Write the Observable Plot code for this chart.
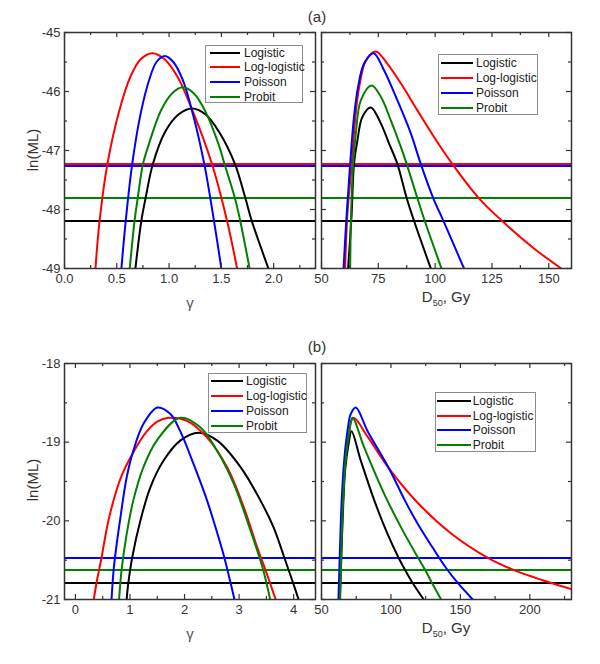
<!DOCTYPE html>
<html>
<head>
<meta charset="utf-8">
<script src="https://cdn.jsdelivr.net/npm/d3@7"></script>
<script src="https://cdn.jsdelivr.net/npm/@observablehq/plot@0.6"></script>
<style>
  body { margin: 0; background: #fff; }
  #chart { position: relative; width: 600px; height: 664px; overflow: hidden;
           font-family: Arial, "Liberation Sans", sans-serif; color: #333; background: #fff; }
  .holder { position: absolute; }
  .holder svg { overflow: visible; background: transparent; display: block; }
  .lbl { position: absolute; white-space: nowrap; line-height: 1; }
  .legend { position: absolute; border: 1.5px solid #8c8c8c; box-sizing: border-box; background: #fff; }
  .legend .sw { position: absolute; height: 2px; }
  .legend .tx { position: absolute; font-size: 12px; color: #222; line-height: 1; transform: translateY(-50%); white-space: nowrap; }
</style>
</head>
<body>
<div id="chart"></div>
<script>
// ---------- series names / colours ----------
const seriesNames = ["Logistic", "Log-logistic", "Poisson", "Probit"];
const seriesColors = ["#000000", "#ff0000", "#0000ff", "#008000"];

// ---------- panel (a), ln(ML) vs gamma ----------
const aGammaLogistic = [[0.678,-49.0],[0.735,-48.19],[0.775,-47.81],[0.845,-47.23],[0.96,-46.69],[1.09,-46.39],[1.22,-46.29],[1.35,-46.39],[1.48,-46.69],[1.63,-47.23],[1.73,-47.81],[1.79,-48.19],[1.95,-49.0]];
const aGammaLogLogistic = [[0.296,-49.0],[0.335,-48.2],[0.41,-47.23],[0.52,-46.35],[0.63,-45.75],[0.73,-45.45],[0.84,-45.35],[0.955,-45.45],[1.08,-45.75],[1.23,-46.35],[1.41,-47.23],[1.555,-48.2],[1.65,-49.0]];
const aGammaPoisson = [[0.544,-49.0],[0.585,-48.2],[0.645,-47.26],[0.725,-46.4],[0.81,-45.8],[0.88,-45.5],[0.96,-45.40],[1.04,-45.5],[1.13,-45.8],[1.23,-46.4],[1.34,-47.26],[1.43,-48.2],[1.50,-49.0]];
const aGammaProbit = [[0.624,-49.0],[0.67,-48.19],[0.70,-47.81],[0.75,-47.23],[0.80,-46.93],[0.92,-46.33],[1.03,-46.03],[1.13,-45.93],[1.235,-46.03],[1.345,-46.33],[1.48,-46.93],[1.53,-47.23],[1.63,-47.81],[1.68,-48.19],[1.77,-49.0]];

// ---------- panel (a), ln(ML) vs D50 ----------
const aDoseLogistic = [[61.7,-49.0],[63.2,-48.12],[64.3,-47.23],[65.8,-46.83],[68.0,-46.43],[71.7,-46.27],[76.1,-46.54],[79.7,-46.88],[83.4,-47.23],[87.5,-47.81],[90.7,-48.19],[98.1,-49.0]];
const aDoseLogLogistic = [[60.4,-49.0],[61.4,-48.07],[63.3,-47.23],[64.9,-46.43],[66.6,-45.92],[69.6,-45.47],[73.9,-45.32],[79.0,-45.53],[84.9,-45.86],[92.2,-46.32],[99.5,-46.77],[107.6,-47.23],[119.3,-47.81],[128.8,-48.17],[143.5,-48.66],[155.5,-49.0]];
const aDosePoisson = [[59.7,-49.0],[61.1,-48.07],[62.6,-47.23],[64.3,-46.43],[66.1,-45.92],[68.7,-45.53],[72.9,-45.35],[77.5,-45.64],[83.4,-46.15],[89.3,-46.71],[93.7,-47.23],[99.2,-47.81],[103.6,-48.19],[112.7,-49.0]];
const aDoseProbit = [[62.6,-49.0],[63.0,-48.12],[63.9,-47.23],[65.1,-46.71],[67.3,-46.15],[72.0,-45.90],[76.1,-46.09],[80.5,-46.49],[84.9,-46.94],[87.5,-47.23],[92.2,-47.81],[95.4,-48.19],[102.8,-49.0]];

// horizontal levels, panel (a): Logistic, Log-logistic, Poisson, Probit
const aLevels = [-48.19, -47.23, -47.26, -47.81];

// ---------- panel (b), ln(ML) vs gamma ----------
const bGammaLogistic = [[0.939,-21.0],[0.97,-20.79],[1.04,-20.47],[1.19,-20.0],[1.37,-19.58],[1.61,-19.24],[1.92,-18.98],[2.258,-18.88],[2.6,-18.98],[3.03,-19.32],[3.39,-19.74],[3.63,-20.08],[3.83,-20.47],[3.99,-20.79],[4.09,-21.0]];
const bGammaLogLogistic = [[0.337,-21.0],[0.386,-20.79],[0.435,-20.62],[0.478,-20.47],[0.62,-19.95],[0.85,-19.42],[1.06,-19.13],[1.30,-18.87],[1.50,-18.74],[1.706,-18.69],[2.044,-18.73],[2.41,-18.94],[2.78,-19.32],[3.087,-19.83],[3.333,-20.34],[3.486,-20.63],[3.67,-21.0]];
const bGammaPoisson = [[0.662,-21.0],[0.693,-20.68],[0.724,-20.47],[0.816,-20.0],[0.939,-19.45],[1.061,-19.11],[1.245,-18.77],[1.503,-18.56],[1.737,-18.64],[1.921,-18.86],[2.166,-19.28],[2.412,-19.74],[2.61,-20.18],[2.73,-20.47],[2.915,-21.0]];
const bGammaProbit = [[0.80,-21.0],[0.847,-20.62],[0.939,-20.17],[1.061,-19.74],[1.245,-19.32],[1.491,-18.98],[1.921,-18.69],[2.289,-18.81],[2.596,-19.11],[2.903,-19.53],[3.149,-20.0],[3.333,-20.38],[3.44,-20.62],[3.57,-21.0]];

// ---------- panel (b), ln(ML) vs D50 ----------
const bDoseLogistic = [[63.2,-21.0],[64.2,-20.51],[65.4,-19.91],[67.0,-19.36],[69.5,-19.02],[71.6,-18.86],[78.4,-19.24],[88.0,-19.74],[97.6,-20.17],[105.5,-20.47],[110.0,-20.62],[115.6,-20.79],[123.6,-21.0]];
const bDoseLogLogistic = [[63.0,-21.0],[63.9,-20.42],[65.1,-19.79],[67.0,-19.24],[69.5,-18.90],[73.1,-18.69],[83.2,-18.93],[98.8,-19.34],[119.2,-19.77],[143.3,-20.16],[169.8,-20.47],[187.8,-20.62],[215.4,-20.79],[230.4,-20.87]];
const bDosePoisson = [[62.2,-21.0],[63.2,-20.42],[64.4,-19.79],[66.3,-19.24],[68.7,-18.86],[71.1,-18.64],[74.7,-18.56],[83.2,-18.86],[98.8,-19.34],[110.0,-19.74],[120.0,-20.06],[130.0,-20.34],[139.7,-20.60],[148.1,-20.79],[158.9,-21.0]];
const bDoseProbit = [[63.4,-21.0],[64.2,-20.42],[65.4,-19.79],[67.3,-19.24],[69.7,-18.90],[72.3,-18.69],[80.8,-19.07],[95.2,-19.66],[107.2,-20.08],[119.5,-20.47],[124.5,-20.62],[129.6,-20.79],[136.1,-21.0]];

// horizontal levels, panel (b): Logistic, Log-logistic, Poisson, Probit
const bLevels = [-20.79, -20.62, -20.47, -20.62];

// ---------- axes ----------
const aGammaDomain = [0, 2.4];
const aGammaMajor = [0, 0.5, 1.0, 1.5, 2.0];
const aGammaMinor = [0.25, 0.75, 1.25, 1.75, 2.25];
const aDoseDomain = [50, 160];
const aDoseMajor = [50, 75, 100, 125, 150];
const aDoseMinor = [62.5, 87.5, 112.5, 137.5];
const aYDomain = [-49, -45];
const aYMajor = [-45, -46, -47, -48, -49];
const aYMinor = [-45.5, -46.5, -47.5, -48.5];

const bGammaDomain = [-0.2, 4.4];
const bGammaMajor = [0, 1, 2, 3, 4];
const bGammaMinor = [0.5, 1.5, 2.5, 3.5];
const bDoseDomain = [50, 230];
const bDoseMajor = [50, 100, 150, 200];
const bDoseMinor = [75, 125, 175, 225];
const bYDomain = [-21, -18];
const bYMajor = [-18, -19, -20, -21];
const bYMinor = [-18.5, -19.5, -20.5];

const chart = document.getElementById("chart");

function panel(o) {
  const fw = o.width - o.ml - o.mr, fh = o.height - o.mt - o.mb;
  const marks = [];
  // horizontal levels
  o.levels.forEach((v, i) => marks.push(Plot.ruleY([v], {stroke: seriesColors[i], strokeWidth: 2, shapeRendering: "crispEdges"})));
  // curves
  o.curves.forEach((c, i) => marks.push(Plot.line(c, {x: d => d[0], y: d => d[1], stroke: seriesColors[i],
    strokeWidth: 2, curve: "catmull-rom", clip: true})));
  // inward ticks on all four sides
  const tk = {stroke: "#333", strokeWidth: 1.2};
  marks.push(Plot.tickX(o.xMajor, {x: d => d, insetTop: fh - 5, ...tk}));
  marks.push(Plot.tickX(o.xMinor, {x: d => d, insetTop: fh - 3, ...tk}));
  marks.push(Plot.tickX(o.xMajor, {x: d => d, insetBottom: fh - 5, ...tk}));
  marks.push(Plot.tickX(o.xMinor, {x: d => d, insetBottom: fh - 3, ...tk}));
  marks.push(Plot.tickY(o.yMajor, {y: d => d, insetRight: fw - 5, ...tk}));
  marks.push(Plot.tickY(o.yMinor, {y: d => d, insetRight: fw - 3, ...tk}));
  marks.push(Plot.tickY(o.yMajor, {y: d => d, insetLeft: fw - 5, ...tk}));
  marks.push(Plot.tickY(o.yMinor, {y: d => d, insetLeft: fw - 3, ...tk}));
  // tick labels
  marks.push(Plot.axisX(o.xMajor, {anchor: "bottom", tickSize: 0, tickPadding: 5, tickFormat: o.xFmt,
    label: null, fontSize: 13, fill: "#333"}));
  if (o.yLabels) {
    marks.push(Plot.axisY(o.yMajor, {anchor: "left", tickSize: 0, tickPadding: 4, tickFormat: d => String(d),
      label: null, fontSize: 13, fill: "#333"}));
  } else {
    marks.push(Plot.axisY(o.yMajor, {anchor: "left", tickSize: 0, tickFormat: () => "", label: null}));
  }
  marks.push(Plot.frame({stroke: "#333", strokeWidth: 1.5}));

  const svg = Plot.plot({
    width: o.width, height: o.height,
    marginLeft: o.ml, marginRight: o.mr, marginTop: o.mt, marginBottom: o.mb,
    x: {domain: o.xDomain},
    y: {domain: o.yDomain},
    style: {fontFamily: "Arial, 'Liberation Sans', sans-serif", background: "transparent", overflow: "visible"},
    marks
  });
  const holder = document.createElement("div");
  holder.className = "holder";
  holder.style.left = o.left + "px";
  holder.style.top = o.top + "px";
  holder.appendChild(svg);
  chart.appendChild(holder);
}

panel({left: 0, top: 0, width: 320, height: 310, ml: 64, mr: 5, mt: 32, mb: 42,
  xDomain: aGammaDomain, yDomain: aYDomain, xMajor: aGammaMajor, xMinor: aGammaMinor,
  yMajor: aYMajor, yMinor: aYMinor, xFmt: d3.format(".1f"), yLabels: true,
  levels: aLevels, curves: [aGammaLogistic, aGammaLogLogistic, aGammaPoisson, aGammaProbit]});
panel({left: 300, top: 0, width: 290, height: 310, ml: 21, mr: 19, mt: 32, mb: 42,
  xDomain: aDoseDomain, yDomain: aYDomain, xMajor: aDoseMajor, xMinor: aDoseMinor,
  yMajor: aYMajor, yMinor: aYMinor, xFmt: d => String(d), yLabels: false,
  levels: aLevels, curves: [aDoseLogistic, aDoseLogLogistic, aDosePoisson, aDoseProbit]});
panel({left: 0, top: 330, width: 320, height: 310, ml: 64, mr: 5, mt: 33, mb: 41,
  xDomain: bGammaDomain, yDomain: bYDomain, xMajor: bGammaMajor, xMinor: bGammaMinor,
  yMajor: bYMajor, yMinor: bYMinor, xFmt: d => String(d), yLabels: true,
  levels: bLevels, curves: [bGammaLogistic, bGammaLogLogistic, bGammaPoisson, bGammaProbit]});
panel({left: 300, top: 330, width: 290, height: 310, ml: 21, mr: 19, mt: 33, mb: 41,
  xDomain: bDoseDomain, yDomain: bYDomain, xMajor: bDoseMajor, xMinor: bDoseMinor,
  yMajor: bYMajor, yMinor: bYMinor, xFmt: d => String(d), yLabels: false,
  levels: bLevels, curves: [bDoseLogistic, bDoseLogLogistic, bDosePoisson, bDoseProbit]});

// ---------- text labels ----------
function label(html, cx, cy, size, extra, color) {
  const el = document.createElement("div");
  el.className = "lbl";
  el.innerHTML = html;
  el.style.left = cx + "px";
  el.style.top = cy + "px";
  el.style.fontSize = size + "px";
  if (color) el.style.color = color;
  el.style.transform = "translate(-50%, -50%)" + (extra || "");
  chart.appendChild(el);
}
label("(a)", 317, 16, 15);
label("(b)", 317, 346, 15);
label("ln(ML)", 32, 150, 15, " rotate(-90deg)");
label("ln(ML)", 32, 480, 15, " rotate(-90deg)");
label("γ", 190, 302, 15, "", "#555");
label("γ", 190, 633, 15, "", "#555");
label("D<sub style='font-size:9px'>50</sub>, Gy", 446, 298, 15);
label("D<sub style='font-size:9px'>50</sub>, Gy", 446, 629, 15);

// ---------- legends ----------
function legend(left, top, w, h, y0, dy, x0, x1, tx) {
  const box = document.createElement("div");
  box.className = "legend";
  box.style.left = left + "px"; box.style.top = top + "px";
  box.style.width = w + "px"; box.style.height = h + "px";
  seriesNames.forEach((name, i) => {
    const y = y0 + i * dy;
    const sw = document.createElement("div");
    sw.className = "sw";
    sw.style.left = x0 + "px"; sw.style.width = (x1 - x0) + "px";
    sw.style.top = (y - 1) + "px"; sw.style.background = seriesColors[i];
    box.appendChild(sw);
    const t = document.createElement("div");
    t.className = "tx";
    t.textContent = name;
    t.style.left = tx + "px"; t.style.top = y + "px";
    box.appendChild(t);
  });
  chart.appendChild(box);
}
legend(205, 45, 98, 58, 6.5, 14.9, 4, 34, 38);
legend(438, 54, 100, 61, 8, 15, 2, 34, 37);
legend(208, 373, 99, 60, 6.8, 14.9, 1.5, 33.5, 37);
legend(435, 392, 101, 60, 7.8, 14.8, 1.3, 34.7, 36.7);
</script>
</body>
</html>
